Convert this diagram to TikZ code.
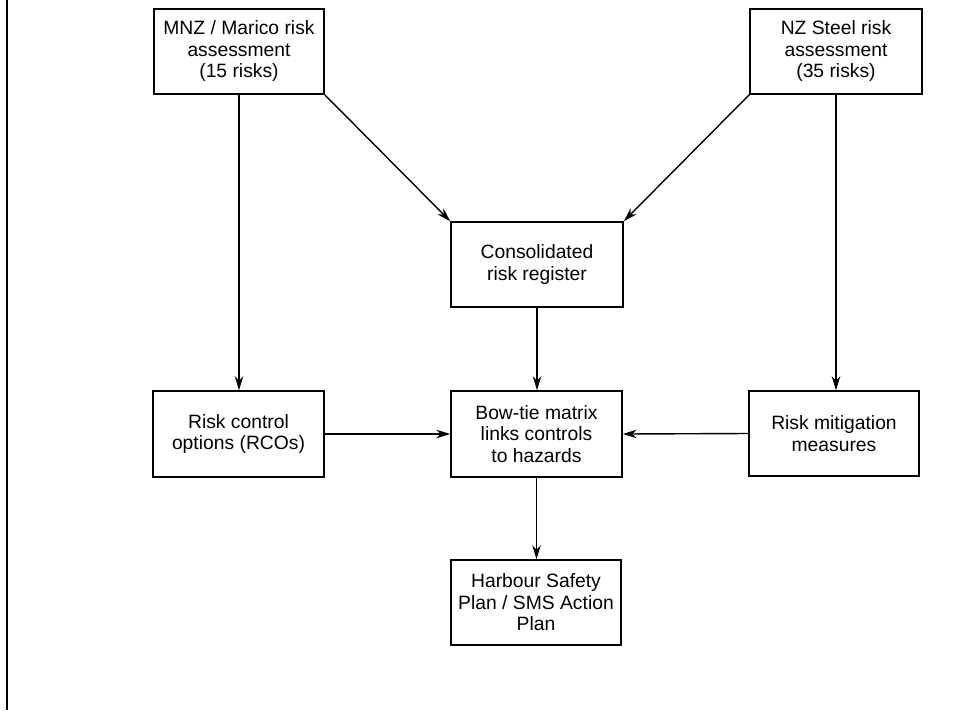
\documentclass[tikz,border=0pt]{standalone}
\usepackage{fontspec}
\setmainfont{Liberation Sans}
\usetikzlibrary{arrows.meta}
\begin{document}
\begin{tikzpicture}[x=1pt,y=-1pt,
  box/.style={draw, line width=1.5pt, rectangle, align=center, inner sep=0pt,
    font=\fontsize{19.3}{21.5}\selectfont},
  conn/.style={line width=1.4pt, -{Stealth[length=14pt,width=8.5pt]}}]
\useasboundingbox (0,0) rectangle (964,710);
\draw[line width=1.8pt] (7,0) -- (7,710);
\node[box, minimum width=170pt, minimum height=85pt] (mnz) at (239,51.5) {MNZ / Marico risk\\assessment\\(15 risks)};
\node[box, minimum width=172pt, minimum height=85pt] (nzs) at (836,51.5) {NZ Steel risk\\assessment\\(35 risks)};
\node[box, minimum width=172pt, minimum height=85pt] (cons) at (537,264.5) {Consolidated\\risk register};
\node[box, minimum width=171pt, minimum height=86pt] (rco) at (238.5,434) {Risk control\\options (RCOs)};
\node[box, minimum width=171pt, minimum height=86pt] (bow) at (536.5,434) {Bow-tie matrix\\links controls\\to hazards};
\node[box, minimum width=170pt, minimum height=85pt] (rmm) at (834,433.5) {Risk mitigation\\measures};
\node[box, minimum width=170pt, minimum height=85pt] (hsp) at (536,602.5) {Harbour Safety\\Plan / SMS Action\\Plan};
\draw[conn] (mnz.south) -- (mnz.south |- rco.north);
\draw[conn] (nzs.south) -- (nzs.south |- rmm.north);
\draw[conn] (mnz.south east) -- (cons.north west);
\draw[conn] (nzs.south west) -- (cons.north east);
\draw[conn] (cons.south) -- (cons.south |- bow.north);
\draw[conn] (rco.east) -- (bow.west);
\draw[conn] (rmm.west) -- (bow.east);
\draw[conn] (bow.south) -- (bow.south |- hsp.north);
\end{tikzpicture}
\end{document}
